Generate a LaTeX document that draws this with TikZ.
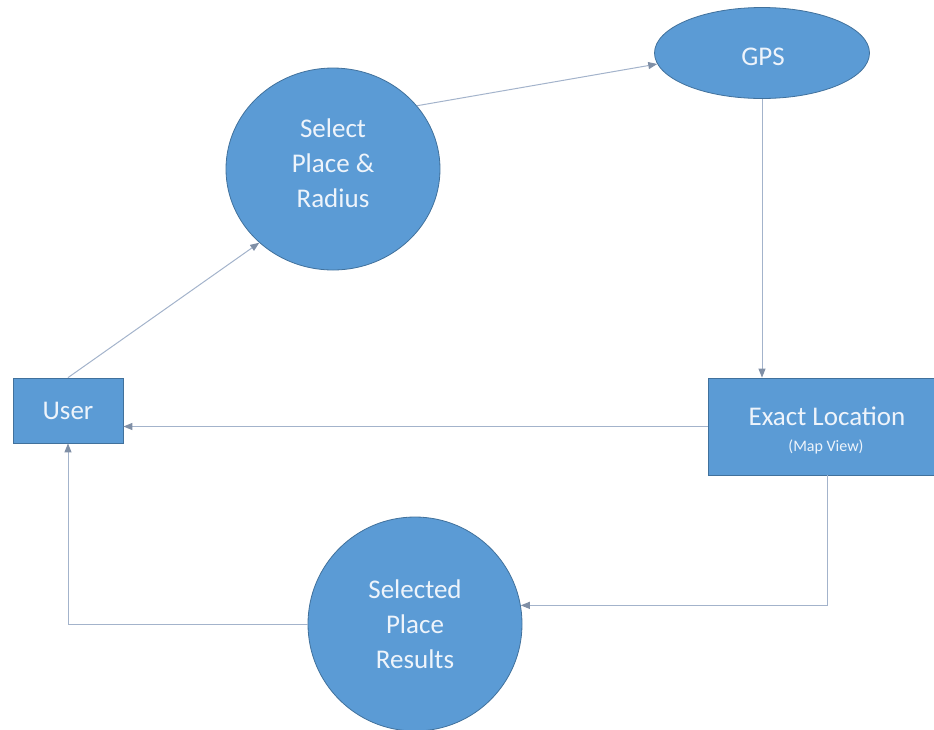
\documentclass[tikz,border=0pt]{standalone}
\usepackage{fontspec}
\setmainfont{Carlito}
\usetikzlibrary{shapes.geometric,arrows.meta}
\definecolor{boxfill}{HTML}{5B9BD5}
\definecolor{boxline}{HTML}{41719C}
\definecolor{conn}{HTML}{A3B3CB}
\definecolor{tipc}{HTML}{7F8FA6}
\definecolor{txt}{HTML}{EEF4FB}
\tikzset{
  bubble/.style={ellipse, draw=boxline, line width=0.8pt, fill=boxfill, text=txt, align=center, inner sep=0pt,
    font=\fontsize{27}{35}\selectfont},
  rectbox/.style={rectangle, draw=boxline, line width=0.8pt, fill=boxfill, text=txt, align=center, inner sep=0pt,
    font=\fontsize{27}{35}\selectfont},
  lbl/.style={text=txt, align=center, inner sep=0pt, font=\fontsize{27}{35}\selectfont},
  conline/.style={draw=conn, line width=1pt, -{Triangle[length=9pt,width=7pt,fill=tipc,color=tipc]}},
}
\begin{document}
\begin{tikzpicture}[x=1pt,y=-1pt]
\useasboundingbox (0,0) rectangle (934,729);
\node[rectbox, minimum width=110, minimum height=65] (user) at (68,410.5) {User};
\node[bubble, minimum width=214, minimum height=202] (sel) at (333,169) {};
\node[lbl] (selt) at (333,163) {Select\\Place \&\\Radius};
\node[bubble, minimum width=215, minimum height=91] (gps) at (762,53) {};
\node[lbl] (gpst) at (763,57) {GPS};
\node[rectbox, minimum width=238, minimum height=97] (exact) at (827,426.5) {};
\node[lbl, anchor=base] (exactt) at (827,425) {Exact Location};
\node[lbl, font=\fontsize{16}{20}\selectfont, anchor=base] (exactm) at (826,451) {(Map View)};
\node[bubble, minimum width=214, minimum height=214] (res) at (415,624) {Selected\\Place\\Results};
\draw[conline] (user.north) -- (sel.225);
\draw[conline] (sel.37) -- (gps.186);
\draw[conline] (gps.south) -- (gps.south |- exact.north);
\draw[conline] (exact.west) -- (exact.west -| user.east);
\draw[conline] (exact.south) |- (res.10);
\draw[conline] (res.west) -| (user.south);
\end{tikzpicture}
\end{document}
